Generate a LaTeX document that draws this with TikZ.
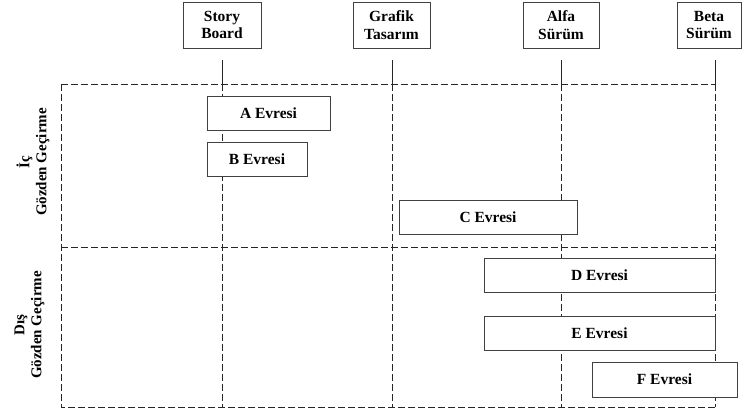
\documentclass[tikz,border=0pt]{standalone}
\usepackage{fontspec}
\setmainfont{Liberation Serif}
\begin{document}
\begin{tikzpicture}[x=1pt,y=-1pt,
  box/.style={draw=black!75,line width=0.9pt,fill=white,inner sep=0pt,font=\bfseries\fontsize{15.5}{17.5}\selectfont},
  headbox/.style={box,align=center},
  dline/.style={draw=black!85,line width=0.9pt,dash pattern=on 7pt off 3pt},
  sline/.style={draw=black!85,line width=0.9pt},
  lab/.style={rotate=90,align=center,font=\bfseries\fontsize{15}{17}\selectfont}]
\useasboundingbox (0,0) rectangle (742,410);
% header boxes
\node[headbox,minimum width=78pt,minimum height=46pt] (sb) at (222,25) {Story\\Board};
\node[headbox,minimum width=77pt,minimum height=46pt] (gt) at (391.5,25) {Grafik\\Tasarım};
\node[headbox,minimum width=76pt,minimum height=46pt] (as) at (561,25) {Alfa\\Sürüm};
\node[headbox,minimum width=64pt,minimum height=46pt] (bs) at (709,25) {Beta\\Sürüm};
% coordinates
\coordinate (sb1) at (222,60); \coordinate (sb2) at (222,84); \coordinate (sb3) at (222,407);
\coordinate (gt1) at (392,60); \coordinate (gt2) at (392,84); \coordinate (gt3) at (392,407);
\coordinate (as1) at (561,60); \coordinate (as2) at (561,84); \coordinate (as3) at (561,407);
\coordinate (bs1) at (715,60); \coordinate (bs2) at (715,84); \coordinate (bs3) at (715,407);
\coordinate (tl) at (61,84); \coordinate (bl) at (61,407);
\coordinate (ml) at (61,247); \coordinate (mr) at (715,247);
% frame
\draw[dline] (tl) -- (bs2);
\draw[dline] (tl) -- (bl) -- (bs3);
\draw[dline] (ml) -- (mr);
% verticals
\draw[sline] (sb1) -- (sb2);
\draw[sline] (gt1) -- (gt2);
\draw[sline] (as1) -- (as2);
\draw[sline] (bs1) -- (bs2);
\draw[dline] (sb2) -- (sb3);
\draw[dline] (gt2) -- (gt3);
\draw[dline] (as2) -- (as3);
\draw[dline] (bs2) -- (bs3);
% phase boxes
\node[box,minimum width=123pt,minimum height=34pt] (a) at (268.5,113) {A Evresi};
\node[box,minimum width=100pt,minimum height=34pt] (b) at (257,159) {B Evresi};
\node[box,minimum width=178pt,minimum height=34pt] (c) at (488,217) {C Evresi};
\node[box,minimum width=231pt,minimum height=34pt] (d) at (599.5,275) {D Evresi};
\node[box,minimum width=231pt,minimum height=34pt] (e) at (599.5,333) {E Evresi};
\node[box,minimum width=145pt,minimum height=35pt] (f) at (664.5,379.5) {F Evresi};
% side labels
\node[lab] (ic) at (33,162) {İç\\Gözden Geçirme};
\node[lab] (dis) at (29.5,325) {Dış\\Gözden Geçirme};
\end{tikzpicture}
\end{document}
